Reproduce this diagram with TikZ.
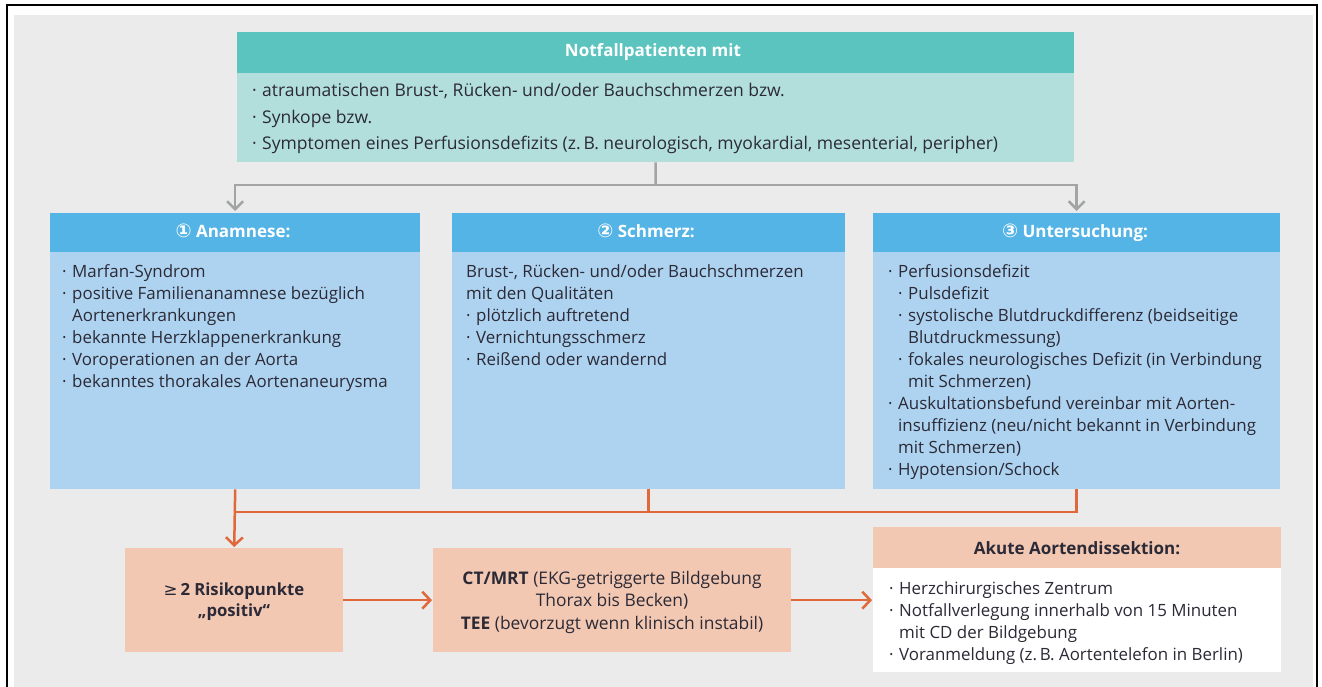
\documentclass[tikz,border=0pt]{standalone}
\usepackage{fontspec}
\setmainfont{Open Sans}
\newfontfamily\symfont{DejaVu Sans}
\usetikzlibrary{arrows.meta}
\definecolor{bgc}{HTML}{EAEBEA}
\definecolor{txt}{HTML}{2B2A36}
\definecolor{tealh}{HTML}{5CC4BF}
\definecolor{tealb}{HTML}{B2DFDB}
\definecolor{blueh}{HTML}{55B4E6}
\definecolor{blueb}{HTML}{AED3F0}
\definecolor{peach}{HTML}{F3C8B3}
\definecolor{orng}{HTML}{E0683A}
\definecolor{gryl}{HTML}{A3A4A4}
\newcommand{\bul}{\makebox[10pt][l]{·}}
\tikzset{
  box/.style={draw=none, inner sep=0, anchor=north west},
  bodytext/.style={inner sep=0, anchor=north west, align=left, text=txt,
    font=\fontsize{16.9}{22}\selectfont, execute at begin node=\strut},
  hdrtext/.style={inner sep=0, anchor=base, text=white, font=\fontsize{17}{20}\selectfont\bfseries},
  grayarrow/.style={draw=gryl, line width=2.5pt, -{Straight Barb[length=8pt,width=16pt]}},
  grayline/.style={draw=gryl, line width=2.5pt},
  orangearrow/.style={draw=orng, line width=2.5pt, -{Straight Barb[length=8pt,width=17pt]}},
  orangeline/.style={draw=orng, line width=2.5pt},
}
\begin{document}
\begin{tikzpicture}[x=1pt,y=-1pt]
\useasboundingbox (0,0) rectangle (1322,687);
\clip (0,0) rectangle (1322,687);
\fill[white] (0,0) rectangle (1322,687);
\draw[line width=2.5pt] (7,705) -- (7,5) -- (1317,5) -- (1317,705);
\fill[bgc] (14,15) rectangle (1313,690);

% top box
\node[box, fill=tealb, minimum width=837, minimum height=130] (top) at (237,32) {};
\node[box, fill=tealh, minimum width=837, minimum height=41] (toph) at (237,32) {};
\node[hdrtext] (toptitle) at (653,57) {Notfallpatienten mit};
\node[bodytext, font=\fontsize{17.5}{26.5}\selectfont] (toptext) at (252,83.5) {\bul atraumatischen Brust-, Rücken- und/oder Bauchschmerzen bzw.\\
\bul Synkope bzw.\\
\bul Symptomen eines Perfusionsdefizits (z.\,B. neurologisch, myokardial, mesenterial, peripher)};

% three boxes
\node[box, fill=blueb, minimum width=370, minimum height=276] (b1) at (50,213) {};
\node[box, fill=blueh, minimum width=370, minimum height=39] (h1) at (50,213) {};
\node[hdrtext] (h1t) at (233,237) {{\symfont\bfseries\fontsize{19}{20}\selectfont ①} Anamnese:};
\node[bodytext] (t1) at (62,264.3) {\bul Marfan-Syndrom\\
\bul positive Familienanamnese bezüglich\\
\hspace*{10pt}Aortenerkrankungen\\
\bul bekannte Herzklappenerkrankung\\
\bul Voroperationen an der Aorta\\
\bul bekanntes thorakales Aortenaneurysma};

\node[box, fill=blueb, minimum width=393, minimum height=276] (b2) at (452,213) {};
\node[box, fill=blueh, minimum width=393, minimum height=39] (h2) at (452,213) {};
\node[hdrtext] (h2t) at (646,237) {{\symfont\bfseries\fontsize{19}{20}\selectfont ②} Schmerz:};
\node[bodytext] (t2) at (466,264.3) {Brust-, Rücken- und/oder Bauchschmerzen\\
mit den Qualitäten\\
\bul plötzlich auftretend\\
\bul Vernichtungsschmerz\\
\bul Reißend oder wandernd};

\node[box, fill=blueb, minimum width=407, minimum height=276] (b3) at (873,213) {};
\node[box, fill=blueh, minimum width=407, minimum height=39] (h3) at (873,213) {};
\node[hdrtext] (h3t) at (1075,237) {{\symfont\bfseries\fontsize{19}{20}\selectfont ③} Untersuchung:};
\node[bodytext] (t3) at (888,264.3) {\bul Perfusionsdefizit\\
\hspace*{10pt}\bul Pulsdefizit\\
\hspace*{10pt}\bul systolische Blutdruckdifferenz (beidseitige\\
\hspace*{20pt}Blutdruckmessung)\\
\hspace*{10pt}\bul fokales neurologisches Defizit (in Verbindung\\
\hspace*{20pt}mit Schmerzen)\\
\bul Auskultationsbefund vereinbar mit Aorten-\\
\hspace*{10pt}insuffizienz (neu/nicht bekannt in Verbindung\\
\hspace*{10pt}mit Schmerzen)\\
\bul Hypotension/Schock};

% bottom boxes
\node[box, fill=peach, minimum width=218, minimum height=104] (ba) at (125,548) {};
\node[inner sep=0, anchor=north, align=center, text=txt, font=\fontsize{16.7}{21.5}\selectfont\bfseries, execute at begin node=\strut] (bat) at (234,582.6) {{\symfont\mdseries ≥}\,2 Risikopunkte\\„positiv“};

\node[box, fill=peach, minimum width=358, minimum height=104] (bb) at (433,548) {};
\node[inner sep=0, anchor=north, align=center, text=txt, font=\fontsize{17.4}{22.5}\selectfont, execute at begin node=\strut] (bbt) at (612,571) {\textbf{CT/MRT} (EKG-getriggerte Bildgebung\\Thorax bis Becken)\\\textbf{TEE} (bevorzugt wenn klinisch instabil)};

\node[box, fill=white, minimum width=408, minimum height=145] (bc) at (873,527) {};
\node[box, fill=peach, minimum width=408, minimum height=41] (hc) at (873,527) {};
\node[hdrtext, text=txt] (hct) at (1077,554) {Akute Aortendissektion:};
\node[bodytext] (tc) at (889,581.3) {\bul Herzchirurgisches Zentrum\\
\bul Notfallverlegung innerhalb von 15 Minuten\\
\hspace*{10pt}mit CD der Bildgebung\\
\bul Voranmeldung (z.\,B. Aortentelefon in Berlin)};

% gray connectors
\coordinate (gj) at (655.5,185);
\draw[grayline] (top.south) -- (gj);
\draw[grayarrow, shorten >=2pt] (gj) -| (b1.north);
\draw[grayarrow, shorten >=2pt] (gj) -| (b3.north);

% orange connectors
\coordinate (oj) at (648.5,512);
\draw[orangearrow, shorten >=1pt] (b1.south) -- (ba.north);
\draw[orangeline] (b1.south |- oj) -- (b3.south |- oj) -- (b3.south);
\draw[orangeline] (b2.south) -- (b2.south |- oj);
\draw[orangearrow, shorten >=1pt] (ba.east) -- (bb.west);
\draw[orangearrow, shorten >=1pt] (bb.east) -- (bb.east -| bc.west);
\end{tikzpicture}
\end{document}
